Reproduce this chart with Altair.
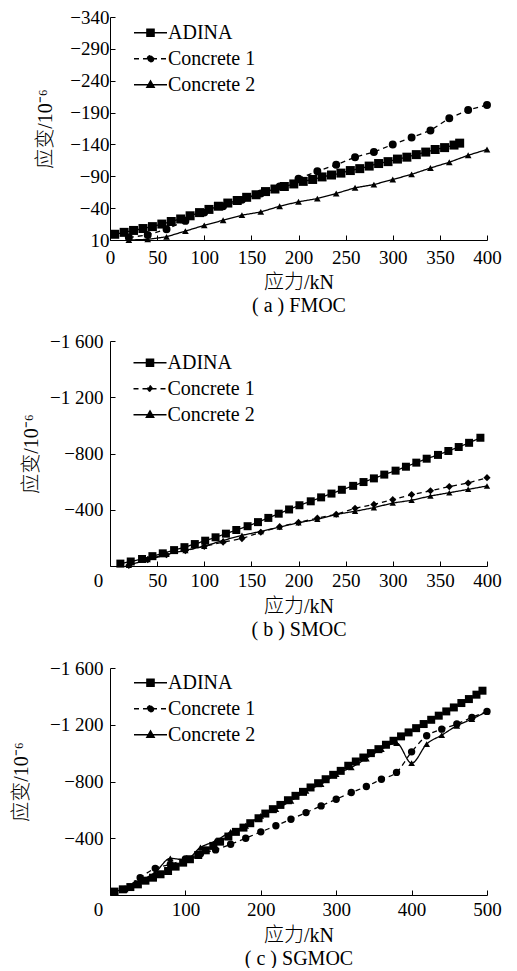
import altair as alt
import pandas as pd

FONT = "Liberation Serif"
CJK = "Liberation Serif, Noto Sans CJK SC"

series_names = ["ADINA", "Concrete 1", "Concrete 2"]

# ---------------- (a) FMOC ----------------
a_adina_x = [5, 15, 25, 35, 45, 55, 65, 75, 85, 95, 105, 115, 125, 135, 145, 155, 165, 175, 185,
             195, 205, 215, 225, 235, 245, 255, 265, 275, 285, 295, 305, 315, 325, 335, 345, 355,
             365, 371]
a_adina_y = [1, -2, -5, -8, -11, -15, -19, -23, -28, -33, -38, -43, -48, -52, -57, -61, -66, -70, -74,
             -78, -82, -85, -89, -92, -95, -99, -102, -106, -110, -113, -117, -120, -124, -128, -132,
             -135, -139, -142]
a_conc_x = [20, 40, 60, 80, 100, 120, 140, 160, 180, 200, 220, 240, 260, 280, 300, 320, 340, 360,
            380, 400]
a_c1_y = [6, 2, -7, -20, -33, -43, -53, -63, -74, -86, -98, -108, -120, -128, -140, -151, -162, -181,
          -194, -202]
a_c2_y = [10, 9, 5, -4, -13, -21, -29, -34, -43, -50, -55, -63, -72, -77, -85, -93, -103, -112, -123,
          -132]

# ---------------- (b) SMOC ----------------
b_adina_x = [11, 22, 34, 45, 56, 68, 79, 90, 101, 112, 123, 134, 146, 157, 168, 179, 190, 201, 213,
             224, 235, 246, 258, 269, 280, 291, 303, 314, 325, 336, 348, 359, 370, 381, 393]
b_adina_y = [-17, -32, -50, -70, -90, -113, -134, -156, -180, -204, -230, -256, -283, -312, -342, -372,
             -402, -432, -460, -488, -515, -542, -570, -597, -623, -650, -678, -706, -735, -763, -790,
             -818, -846, -876, -912]
b_conc_x = [20, 40, 60, 80, 100, 120, 140, 160, 180, 200, 220, 240, 260, 280, 300, 320, 340, 360,
            380, 400]
b_c1_y = [-5, -45, -80, -110, -140, -170, -195, -240, -280, -310, -340, -368, -410, -438, -472, -508,
          -535, -565, -590, -628]
b_c2_y = [-5, -47, -83, -111, -140, -182, -218, -246, -277, -308, -332, -367, -389, -415, -448, -467,
          -498, -521, -545, -569]

# ---------------- (c) SGMOC ----------------
c_adina_x = [6, 17, 27, 37, 47, 57, 67, 77, 87, 97, 106, 117, 127, 137, 146, 157, 167, 177, 186, 197,
             206, 216, 226, 236, 246, 256, 266, 276, 286, 296, 306, 316, 326, 336, 346, 356, 366, 376,
             386, 396, 406, 416, 426, 436, 446, 456, 466, 476, 486, 494]
c_adina_y = [-24, -40, -56, -75, -101, -122, -146, -169, -200, -228, -252, -282, -315, -346, -376, -412,
             -445, -475, -506, -541, -574, -605, -635, -668, -699, -727, -758, -788, -816, -847, -875,
             -911, -941, -969, -1000, -1028, -1059, -1087, -1118, -1146, -1176, -1205, -1235, -1264,
             -1294, -1322, -1353, -1381, -1412, -1440]
c_conc_x = [20, 40, 60, 80, 100, 120, 140, 160, 180, 200, 220, 240, 260, 280, 300, 320, 340, 360, 380,
            400, 420, 440, 460, 480, 500]
c_c1_y = [-40, -122, -188, -215, -255, -290, -318, -358, -400, -445, -488, -534, -581, -628, -675, -722,
          -765, -816, -864, -1009, -1122, -1169, -1205, -1252, -1294]
c_c2_y = [-40, -100, -160, -258, -248, -335, -382, -445, -488, -558, -605, -664, -734, -781, -852, -899,
          -962, -1028, -1071, -929, -1064, -1127, -1193, -1240, -1294]

a_xticks = [0, 50, 100, 150, 200, 250, 300, 350, 400]
a_yticks = [10, -40, -90, -140, -190, -240, -290, -340]
b_xticks = [0, 50, 100, 150, 200, 250, 300, 350, 400]
b_yticks = [-400, -800, -1200, -1600]
c_xticks = [0, 100, 200, 300, 400, 500]
c_yticks = [-400, -800, -1200, -1600]

SQ = "M-1,0H1M-0.22,-0.22H0.22V0.22H-0.22Z"
CI = "M-1,0H1M0.19,0A0.19,0.19 0 1,1 -0.19,0A0.19,0.19 0 1,1 0.19,0Z"
TR = "M-1,0H1M0,-0.24L0.23,0.16H-0.23Z"
DI = "M-1,0H1M0,-0.2L0.16,0L0,0.2L-0.16,0Z"
DASHES = [[1, 0], [5, 4], [1, 0]]
BLACKS = ["black", "black", "black"]


def frame(xs, ys, name):
    return pd.DataFrame({"load": xs, "strain": ys, "series": name})


def panel(df, xdom, xticks, ydom, yticks, caption, h, shapes, sizes, paths, lx, ly, ytx,
          ylpad, xlpad, xty, zero_dx, interp):
    xscale = alt.Scale(domain=xdom, nice=False, zero=False)
    yscale = alt.Scale(domain=ydom, nice=False, zero=False)
    xaxis = alt.Axis(values=xticks, title=["应力/kN", caption], grid=False, orient="bottom",
                     domainColor="black", domainWidth=1, ticks=False, labelPadding=xlpad,
                     labelFont=FONT, labelFontSize=19, labelColor="black", labelFlush=False,
                     labelOffset={"condition": {"test": "datum.value === 0", "value": zero_dx},
                                  "value": 0},
                     titleFont=CJK, titleFontSize=20, titleFontWeight=300,
                     titleColor="black", titleLineHeight=23, titleBaseline="top",
                     titleY=xty, titleX=188.5, titleAlign="center")
    yaxis = alt.Axis(values=yticks, title="应变/10⁻⁶", grid=False, orient="left",
                     format=",.0f",
                     labelExpr="replace(replace(datum.label, ',', ' '), '-', '\u2212')",
                     domainColor="black", domainWidth=1, ticks=False, labelPadding=ylpad,
                     labelFont=FONT, labelFontSize=19, labelColor="black", labelFlush=False,
                     titleFont=CJK, titleFontSize=20, titleFontWeight=300,
                     titleColor="black", titleX=ytx, titleY=h / 2,
                     titleAlign="center", titleBaseline="middle", titleAngle=270)
    # inward tick marks: a second, label-less axis pushed into the plot
    xtick_axis = alt.Axis(values=xticks, orient="bottom", offset=-5, tickSize=5, tickColor="black",
                          tickWidth=1, domain=False, labels=False, title=None, grid=False)
    ytick_axis = alt.Axis(values=yticks, orient="left", offset=-5, tickSize=5, tickColor="black",
                          tickWidth=1, domain=False, labels=False, title=None, grid=False)
    legend = alt.Legend(title=None, orient="none", legendX=lx, legendY=ly, symbolSize=1089,
                        clipHeight=25.5, rowPadding=0, padding=0, labelOffset=0,
                        labelFont=FONT, labelFontSize=20, labelColor="black",
                        symbolStrokeWidth=1.3, symbolStrokeColor="black",
                        symbolFillColor="black", symbolOpacity=1)
    lines = alt.Chart(df).mark_line(color="black", strokeWidth=1.3, interpolate=interp).encode(
        x=alt.X("load:Q", scale=xscale, axis=xaxis),
        y=alt.Y("strain:Q", scale=yscale, axis=yaxis),
        strokeDash=alt.StrokeDash("series:N",
                                  scale=alt.Scale(domain=series_names, range=DASHES),
                                  legend=None))
    pts = alt.Chart(df).mark_point(filled=True, color="black", opacity=1).encode(
        x=alt.X("load:Q", scale=xscale, axis=xtick_axis),
        y=alt.Y("strain:Q", scale=yscale, axis=ytick_axis),
        shape=alt.Shape("series:N", scale=alt.Scale(domain=series_names, range=shapes),
                        legend=None),
        size=alt.Size("series:N", scale=alt.Scale(domain=series_names, range=sizes),
                      legend=None))
    key = alt.Chart(df).transform_filter("false").mark_point(strokeWidth=1.3, opacity=1).encode(
        x=alt.X("load:Q", scale=xscale, axis=None),
        y=alt.Y("strain:Q", scale=yscale, axis=None),
        shape=alt.Shape("series:N", scale=alt.Scale(domain=series_names, range=paths),
                        legend=legend),
        strokeDash=alt.StrokeDash("series:N",
                                  scale=alt.Scale(domain=series_names, range=DASHES),
                                  legend=legend),
        fill=alt.Fill("series:N", scale=alt.Scale(domain=series_names, range=BLACKS),
                      legend=legend),
        stroke=alt.Stroke("series:N", scale=alt.Scale(domain=series_names, range=BLACKS),
                          legend=legend))
    return (alt.layer(lines, pts, key)
            .resolve_axis(x="independent", y="independent")
            .resolve_scale(shape="independent", strokeDash="independent")
            .properties(width=377, height=h))


dfa = pd.concat([frame(a_adina_x, a_adina_y, "ADINA"), frame(a_conc_x, a_c1_y, "Concrete 1"),
                 frame(a_conc_x, a_c2_y, "Concrete 2")])
dfb = pd.concat([frame(b_adina_x, b_adina_y, "ADINA"), frame(b_conc_x, b_c1_y, "Concrete 1"),
                 frame(b_conc_x, b_c2_y, "Concrete 2")])
dfc = pd.concat([frame(c_adina_x, c_adina_y, "ADINA"), frame(c_conc_x, c_c1_y, "Concrete 1"),
                 frame(c_conc_x, c_c2_y, "Concrete 2")])

pa = panel(dfa, [0, 400], a_xticks, [10, -340], a_yticks, "( a ) FMOC", 223,
           ["square", "circle", "triangle-up"], [81, 45, 55], [SQ, CI, TR],
           23, 3, -65, 1, 8, 32, 0, "linear")
pb = panel(dfb, [0, 400], b_xticks, [0, -1600], b_yticks, "( b ) SMOC", 225,
           ["square", "diamond", "triangle-up"], [64, 40, 55], [SQ, DI, TR],
           22.5, 9, -79, 7, 5, 30, -12, "linear")
pc = panel(dfc, [0, 500], c_xticks, [0, -1600], c_yticks, "( c ) SGMOC", 227,
           ["square", "circle", "triangle-up"], [64, 45, 55], [SQ, CI, TR],
           23, 2, -89, 7, 5, 30, -12, "monotone")

RES_S = dict(strokeDash="independent", shape="independent", size="independent",
             fill="independent", stroke="independent")
RES_L = dict(strokeDash="independent", shape="independent", fill="independent",
             stroke="independent")

upper = (alt.vconcat(pa, pb, spacing=17)
         .resolve_scale(**RES_S).resolve_legend(**RES_L))

chart = (alt.vconcat(upper, pc, spacing=20)
         .resolve_scale(**RES_S).resolve_legend(**RES_L)
         .properties(padding={"left": 3, "top": 0, "right": 5, "bottom": 0}, background="white")
         .configure_view(stroke=None))

chart.save("out.html", embed_options={"renderer": "svg", "actions": False})
